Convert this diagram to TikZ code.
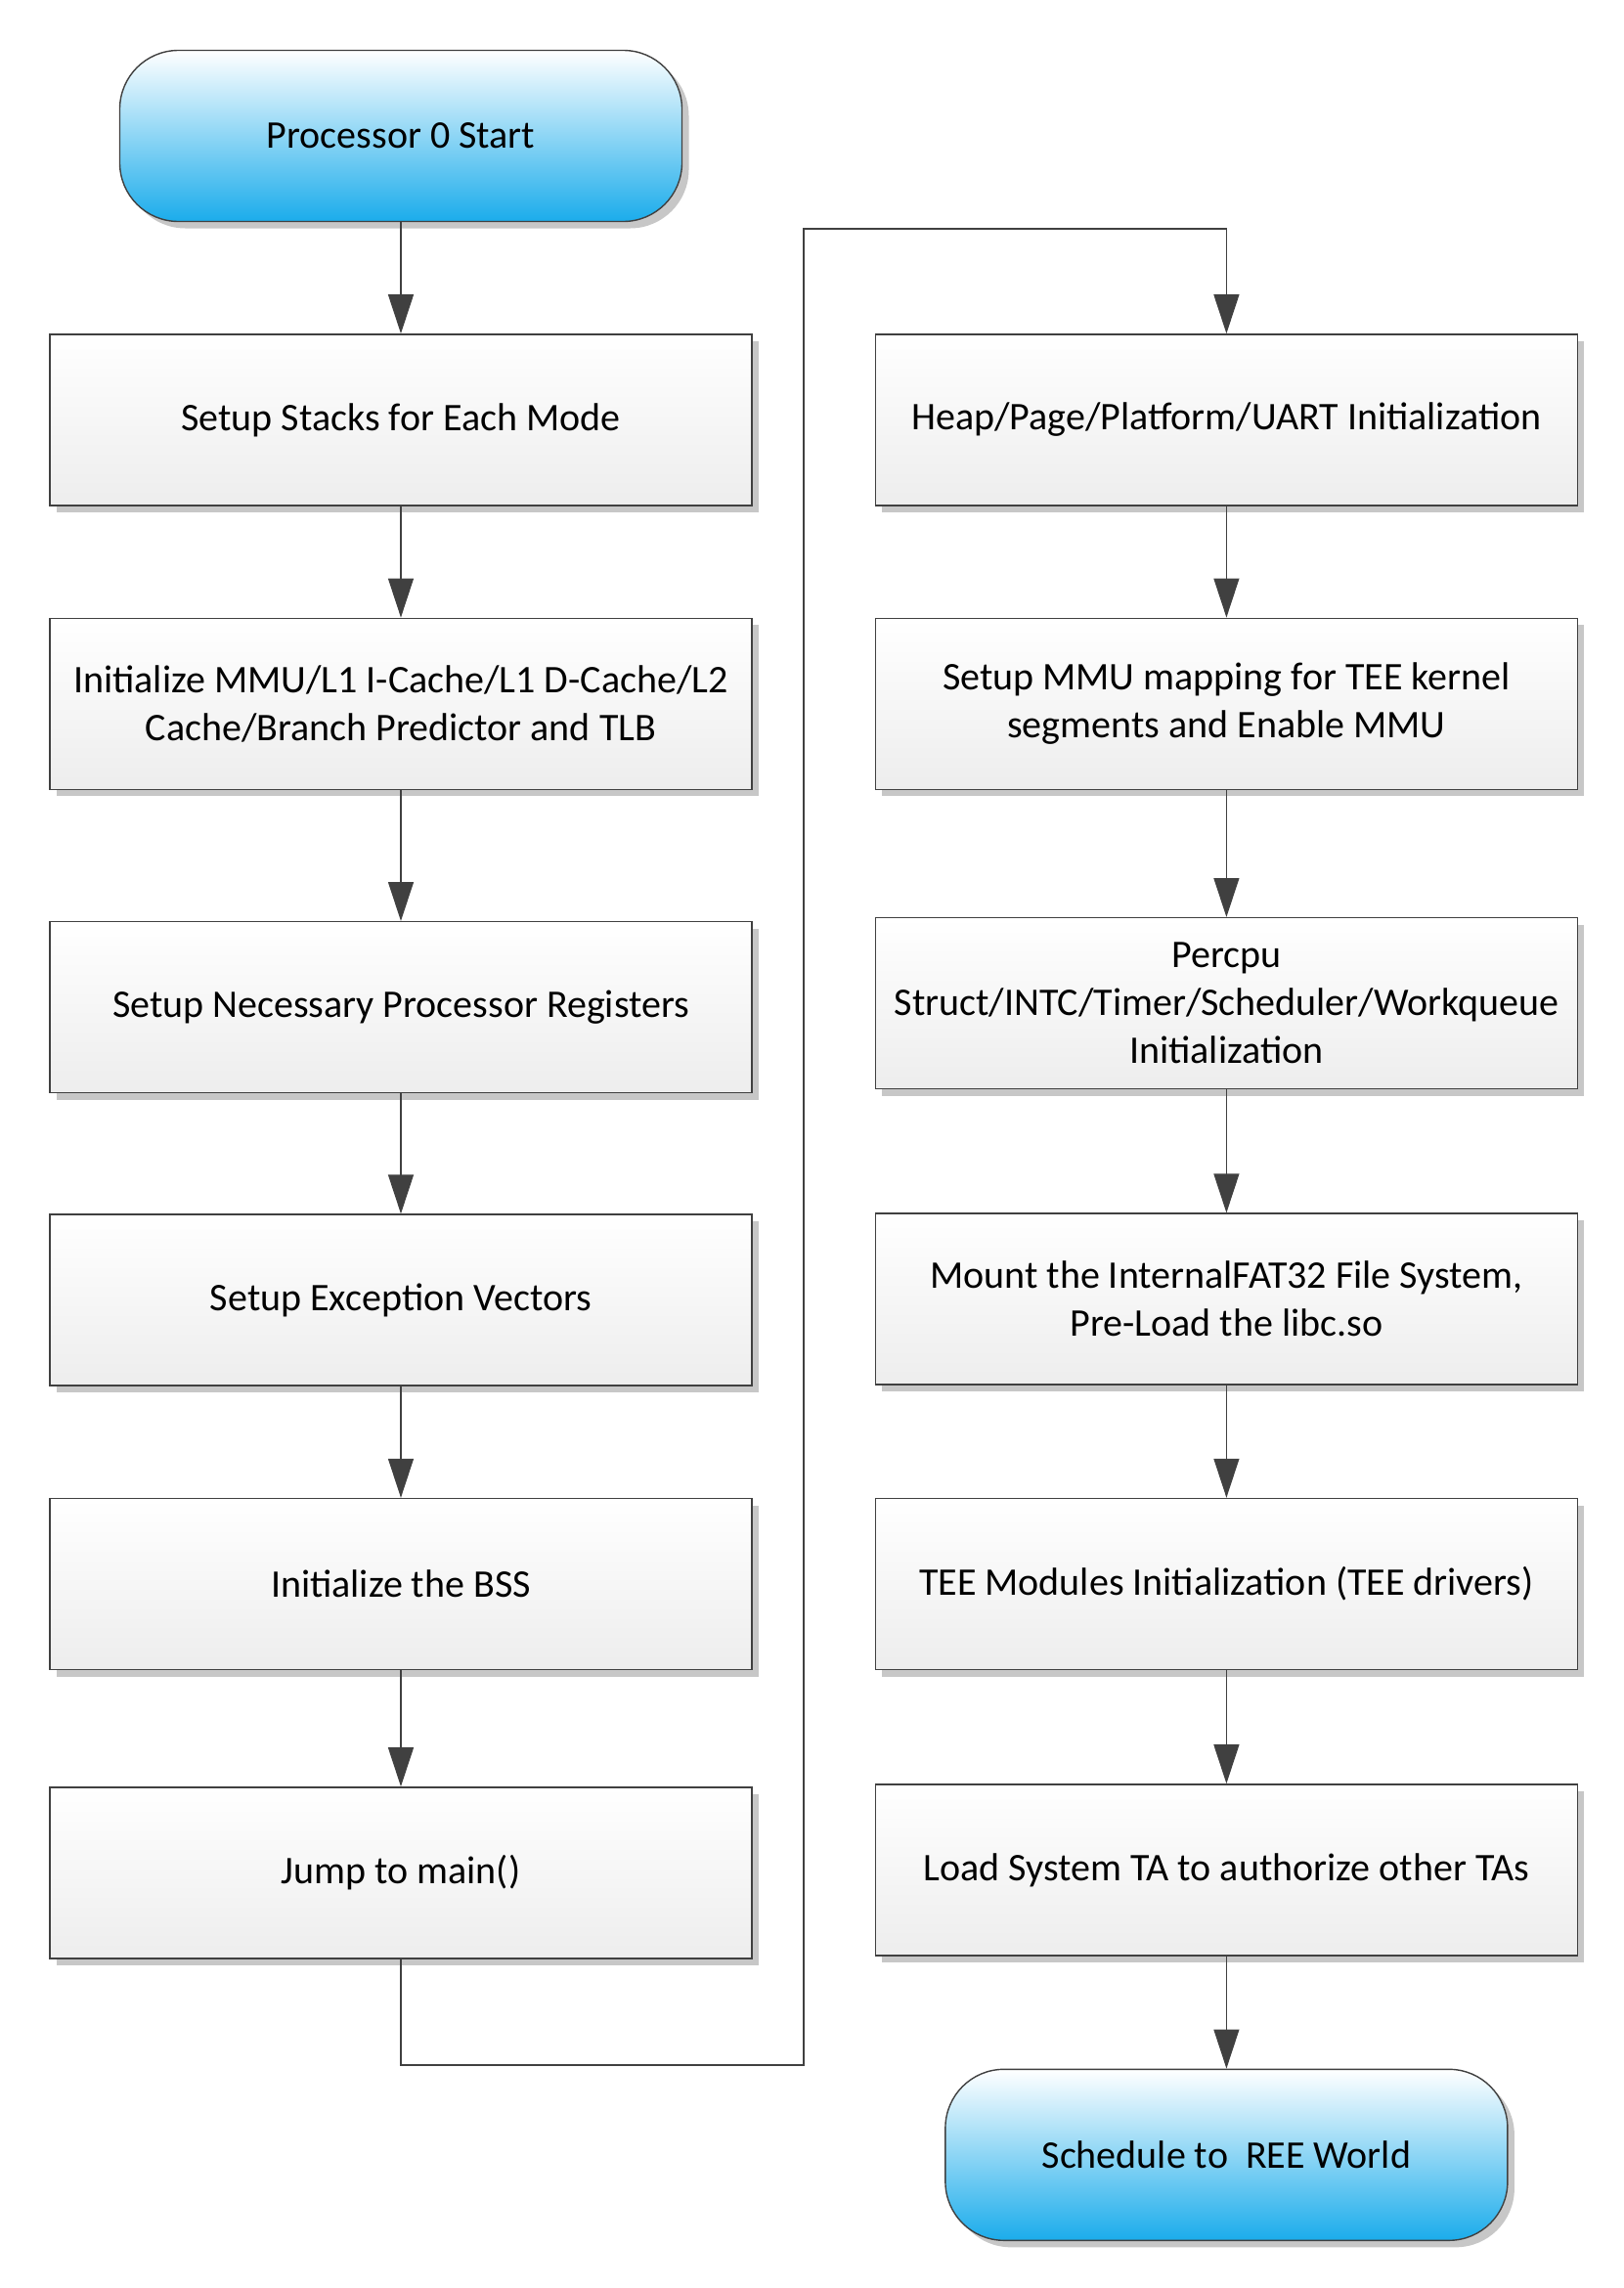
\documentclass[tikz,border=0pt]{standalone}
\usepackage{fontspec}
\setmainfont{Carlito}
\usetikzlibrary{positioning,shadows,arrows.meta}
\definecolor{startblue}{RGB}{27,172,235}
\definecolor{linegray}{RGB}{64,64,64}

\begin{document}
\begin{tikzpicture}[node distance=57pt,
  every node/.style={font=\fontsize{20}{24.5}\selectfont}
]

\tikzstyle{process}=[draw=linegray,line width=0.7pt,rectangle,minimum width=359pt,minimum height=87.5pt,inner sep=2pt,align=center,top color=white,bottom color=black!7,drop shadow={shadow xshift=3.5pt,shadow yshift=-3.5pt,fill=black!22,opacity=1}]
\tikzstyle{terminal}=[process,rounded corners=30pt,minimum width=287.5pt,top color=white,bottom color=startblue]
\tikzstyle{flow}=[draw=linegray,line width=0.6pt,-{Triangle[length=20pt,width=13pt]}]

\useasboundingbox (0,0) rectangle (830pt,-1170pt);

% left column
\node [terminal] (start) at (205pt,-69.5pt) {Processor 0 Start};
\node [process,below=57pt of start] (stacks) {Setup Stacks for Each Mode};
\node [process,below=of stacks] (caches) {Initialize MMU/L1 I-Cache/L1 D-Cache/L2\\Cache/Branch Predictor and TLB};
\node [process,below=67pt of caches] (regs) {Setup Necessary Processor Registers};
\node [process,below=61.5pt of regs] (vectors) {Setup Exception Vectors};
\node [process,below=57pt of vectors] (bss) {Initialize the BSS};
\node [process,below=59.5pt of bss] (jump) {Jump to main()};

% right column
\node [process,right=62.5pt of stacks] (heap) {Heap/Page/Platform/UART Initialization};
\node [process,below=of heap] (mmu) {Setup MMU mapping for TEE kernel\\segments and Enable MMU};
\node [process,below=65pt of mmu] (percpu) {Percpu\\Struct/INTC/Timer/Scheduler/Workqueue\\Initialization};
\node [process,below=63pt of percpu] (mount) {Mount the InternalFAT32 File System,\\Pre-Load the libc.so};
\node [process,below=57.5pt of mount] (modules) {TEE Modules Initialization (TEE drivers)};
\node [process,below=58pt of modules] (systa) {Load System TA to authorize other TAs};
\node [terminal,below=57.5pt of systa] (ree) {Schedule to\ \ REE World};

\foreach \a/\b in {start/stacks,stacks/caches,caches/regs,regs/vectors,vectors/bss,bss/jump,
  heap/mmu,mmu/percpu,percpu/mount,mount/modules,modules/systa,systa/ree}
  \draw [flow] (\a) -- (\b);

% jump over to the right column
\coordinate (lowturn) at (411pt,-1056pt);
\coordinate (highturn) at (411pt,-117pt);
\draw [flow] (jump.south) |- (lowturn) -- (highturn) -| (heap.north);
\end{tikzpicture}
\end{document}
